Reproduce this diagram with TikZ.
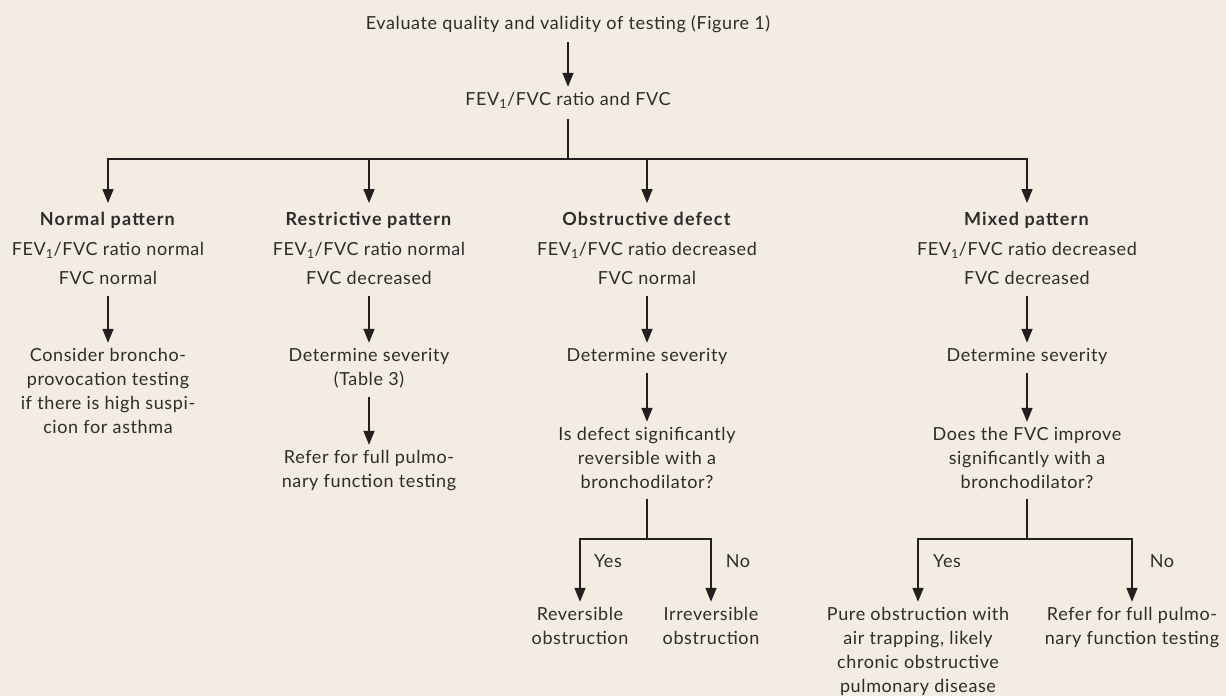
\documentclass[tikz,border=0pt]{standalone}
\usepackage{fontspec}
\setmainfont{Lato}[LetterSpace=3.4,BoldFeatures={LetterSpace=6.5}]
\usetikzlibrary{arrows.meta}
\definecolor{bgc}{HTML}{F3ECE3}
\definecolor{ink}{HTML}{2E2C2B}
\definecolor{lc}{HTML}{231F20}
\newcommand{\fevsub}{FEV\textsubscript{1}}
\begin{document}
\begin{tikzpicture}[x=1pt,y=-1pt,
  txt/.style={inner sep=0pt, align=center, text=ink, font=\fontsize{18}{24}\selectfont},
  hdr/.style={inner sep=0pt, align=center, text=ink, font=\fontsize{18}{29.5}\selectfont},
  ln/.style={draw=lc, line width=1.5pt},
  arr/.style={ln, -{Triangle[length=14pt,width=11pt]}, shorten >=2pt},
]
\fill[bgc] (0,0) rectangle (1226,696);
\useasboundingbox (0,0) rectangle (1226,696);

\node[txt] (top) at (568,25) {\strut Evaluate quality and validity of testing (Figure 1)};
\node[txt] (fev) at (568,101) {\strut\fevsub/FVC ratio and FVC};
\coordinate (s0) at (568,159);

\node[hdr] (h1) at (108,249.5) {\strut\textbf{Normal pattern}\\\strut\fevsub/FVC ratio normal\\\strut FVC normal};
\node[hdr] (h2) at (369,249.5) {\strut\textbf{Restrictive pattern}\\\strut\fevsub/FVC ratio normal\\\strut FVC decreased};
\node[hdr] (h3) at (647,249.5) {\strut\textbf{Obstructive defect}\\\strut\fevsub/FVC ratio decreased\\\strut FVC normal};
\node[hdr] (h4) at (1027,249.5) {\strut\textbf{Mixed pattern}\\\strut\fevsub/FVC ratio decreased\\\strut FVC decreased};

\node[txt] (n1) at (108,393) {\strut Consider broncho-\\\strut provocation testing\\\strut if there is high suspi-\\\strut cion for asthma};

\node[txt] (r1) at (369,369) {\strut Determine severity\\\strut (Table 3)};
\node[txt] (r2) at (369,471) {\strut Refer for full pulmo-\\\strut nary function testing};

\node[txt] (o1) at (647,357) {\strut Determine severity};
\node[txt] (o2) at (647,460) {\strut Is defect significantly\\\strut reversible with a\\\strut bronchodilator?};
\coordinate (os) at (647,539);
\node[txt] (o3) at (580,628) {\strut Reversible\\\strut obstruction};
\node[txt] (o4) at (711,628) {\strut Irreversible\\\strut obstruction};
\node[txt] (oy) at (608,563) {\strut Yes};
\node[txt] (on) at (738,563) {\strut No};

\node[txt] (m1) at (1027,357) {\strut Determine severity};
\node[txt] (m2) at (1027,460) {\strut Does the FVC improve\\\strut significantly with a\\\strut bronchodilator?};
\coordinate (ms) at (1027,539);
\node[txt] (m3) at (918,652) {\strut Pure obstruction with\\\strut air trapping, likely\\\strut chronic obstructive\\\strut pulmonary disease};
\node[txt] (m4) at (1132,628) {\strut Refer for full pulmo-\\\strut nary function testing};
\node[txt] (my) at (947,563) {\strut Yes};
\node[txt] (mn) at (1162,563) {\strut No};

% connectors
\draw[arr, shorten <=5pt] (top.south) -- (fev.north);
\draw[ln, shorten <=6pt] (fev.south) -- (s0);
\draw[arr] (s0) -| (h1.north);
\draw[arr] (s0) -| (h2.north);
\draw[arr] (s0) -| (h3.north);
\draw[arr] (s0) -| (h4.north);

\draw[arr, shorten <=2pt] (h1.south) -- (n1.north);
\draw[arr, shorten <=2pt] (h2.south) -- (r1.north);
\draw[arr, shorten <=4pt] (r1.south) -- (r2.north);
\draw[arr, shorten <=2pt] (h3.south) -- (o1.north);
\draw[arr, shorten <=4pt] (o1.south) -- (o2.north);
\draw[ln, shorten <=3pt] (o2.south) -- (os);
\draw[arr] (os) -| (o3.north);
\draw[arr] (os) -| (o4.north);

\draw[arr, shorten <=2pt] (h4.south) -- (m1.north);
\draw[arr, shorten <=4pt] (m1.south) -- (m2.north);
\draw[ln, shorten <=3pt] (m2.south) -- (ms);
\draw[arr] (ms) -| (m3.north);
\draw[arr] (ms) -| (m4.north);
\end{tikzpicture}
\end{document}
